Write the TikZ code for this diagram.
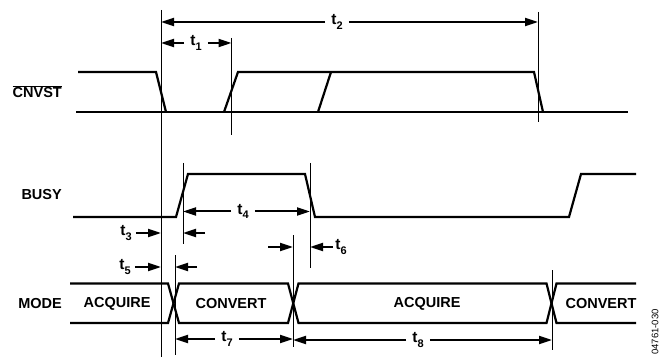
\documentclass[tikz,border=0pt]{standalone}
\usepackage{fontspec}
\setmainfont{Liberation Sans}
\usetikzlibrary{arrows.meta}

\newcommand{\tlab}[1]{t\raisebox{-0.3em}{\fontsize{11}{12}\selectfont #1}}

\begin{document}
\begin{tikzpicture}
	[x=1pt,y=-1pt,
	 sig/.style={line width=2.2pt},
	 refl/.style={line width=1pt},
	 dim/.style={line width=2pt,-{Triangle[length=13pt,width=8pt]}},
	 lab/.style={font=\bfseries\fontsize{14.5}{17}\selectfont,inner sep=0pt},
	 tl/.style={lab,font=\bfseries\fontsize{15.5}{17}\selectfont,inner xsep=6pt,inner ysep=1pt}]

	\useasboundingbox (0,0) rectangle (661,358);

	% reference lines
	\foreach \x/\ya/\yb [count=\i from 0] in
		{161/10/357, 231.5/38/135, 538/12/122, 183/163/244,
		 310/163/268, 175/255/355, 293/235/347, 552/270/350}
	{
		\coordinate (r\i a) at (\x,\ya);
		\coordinate (r\i b) at (\x,\yb);
		\draw[refl] (r\i a) -- (r\i b);
	}

	% CNVST
	\draw[sig] (76,112) -- (628,112);
	\draw[sig] (78,72) -- (156,72) -- (166,112);
	\draw[sig] (224,112) -- (238,72) -- (534,72) -- (543,112);
	\draw[sig] (318,112) -- (331,72);

	% BUSY
	\draw[sig] (73,217) -- (176,217) -- (188,174) -- (305,174) -- (315,217)
		-- (569,217) -- (581,174) -- (636,174);

	% MODE
	\draw[sig] (70,283.5) -- (168,283.5) -- (179,323) -- (288,323) -- (298.5,283.5)
		-- (546.5,283.5) -- (556.5,323) -- (636,323);
	\draw[sig] (70,323) -- (168,323) -- (179,283.5) -- (288,283.5) -- (298.5,323)
		-- (546.5,323) -- (556.5,283.5) -- (636,283.5);

	\node[lab,anchor=east] (cnvst) at (62,91.5) {$\overline{\mbox{CNVST}}$};
	\node[lab,anchor=east] (busy) at (62,195) {BUSY};
	\node[lab,anchor=east] (mode) at (62,304) {MODE};
	\node[lab] (acq1) at (117,304) {ACQUIRE};
	\node[lab] (conv1) at (231,304) {CONVERT};
	\node[lab] (acq2) at (427,304) {ACQUIRE};
	\node[lab] (conv2) at (601,304) {CONVERT};

	% timings
	\node[tl] (t1) at (196,43) {\tlab{1}};
	\draw[dim] (t1) -- (t1 -| r0a);
	\draw[dim] (t1) -- (t1 -| r1a);

	\node[tl] (t2) at (337,22) {\tlab{2}};
	\draw[dim] (t2) -- (t2 -| r0a);
	\draw[dim] (t2) -- (t2 -| r2a);

	\node[tl,inner xsep=4pt] (t3) at (126,233) {\tlab{3}};
	\draw[dim] (t3) -- (t3 -| r0a);
	\coordinate (t3r) at (205,233);
	\draw[dim] (t3r) -- (t3r -| r3a);

	\node[tl] (t4) at (243,211.5) {\tlab{4}};
	\draw[dim] (t4) -- (t4 -| r3a);
	\draw[dim] (t4) -- (t4 -| r4a);

	\node[tl,inner xsep=4pt] (t5) at (125,267) {\tlab{5}};
	\draw[dim] (t5) -- (t5 -| r0a);
	\coordinate (t5r) at (197,267);
	\draw[dim] (t5r) -- (t5r -| r5a);

	\coordinate (t6l) at (268,247);
	\draw[dim] (t6l) -- (t6l -| r6a);
	\node[tl,inner xsep=2pt] (t6) at (341,247) {\tlab{6}};
	\draw[dim] (t6) -- (t6 -| r4a);

	\node[tl] (t7) at (227,339) {\tlab{7}};
	\draw[dim] (t7) -- (t7 -| r5a);
	\draw[dim] (t7) -- (t7 -| r6a);

	\node[tl] (t8) at (418,340) {\tlab{8}};
	\draw[dim] (t8) -- (t8 -| r6a);
	\draw[dim] (t8) -- (t8 -| r7a);

	\node[font=\fontsize{9.5}{11}\selectfont,rotate=90] (fig) at (655,332) {04761-030};

\end{tikzpicture}
\end{document}
